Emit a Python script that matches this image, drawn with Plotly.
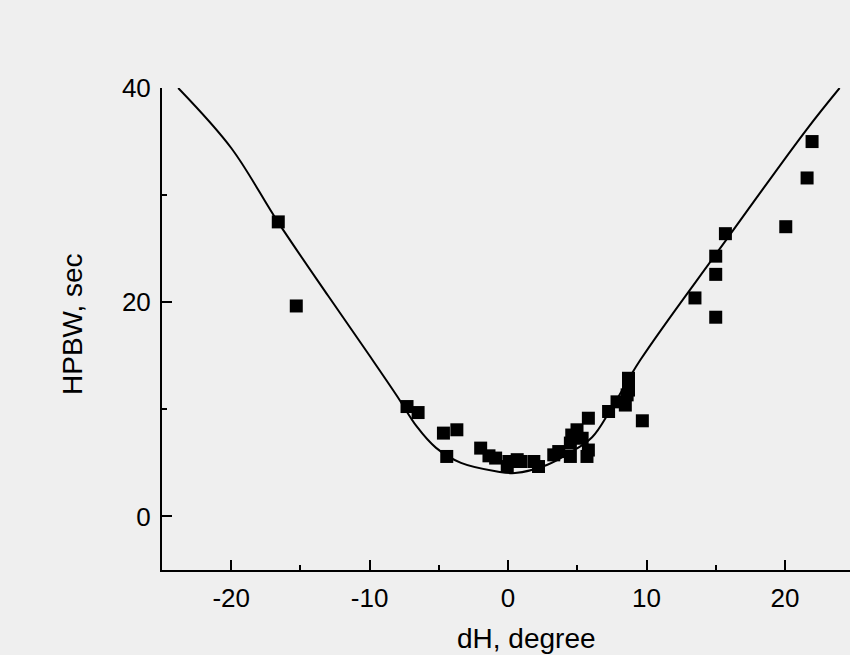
import plotly.graph_objects as go

# Measured data points (dH in degrees, HPBW in seconds)
dh_points = [-16.6, -15.3, -7.3, -6.5, -4.67, -4.43, -3.7, -1.98, -1.38, -0.9, 0.06, -0.06,
             0.66, 0.9, 1.86, 2.2, 3.3, 3.66, 4.5, 4.5, 4.6, 4.98, 5.35, 5.8, 5.7, 5.8,
             7.26, 7.87, 8.47, 8.6, 8.7, 8.7, 9.7, 13.5, 15.0, 15.0, 15.0, 15.7, 20.06, 21.6, 21.96]
hpbw_points = [27.5, 19.65, 10.26, 9.7, 7.78, 5.6, 8.09, 6.38, 5.66, 5.45, 5.13, 4.66,
               5.3, 5.13, 5.13, 4.66, 5.75, 6.06, 5.6, 6.85, 7.6, 8.09, 7.3, 6.2, 5.6, 9.17,
               9.8, 10.7, 10.4, 11.35, 11.8, 12.9, 8.93, 20.4, 24.3, 22.6, 18.6, 26.4, 27.05, 31.6, 35.0]

# Model curve
dh_curve = [-23.83, -20.0, -16.63, -13.0, -10.0, -8.0, -6.6, -5.2, -3.4, -0.8, 0.5,
            2.8, 4.4, 6.07, 7.4, 9.55, 15.3, 21.55, 23.95]
hpbw_curve = [40.0, 34.4, 27.5, 20.6, 15.0, 11.2, 8.4, 6.4, 5.0, 4.2, 4.05,
              4.8, 5.9, 7.4, 9.95, 14.6, 25.0, 36.1, 40.0]

x_ticks = [-20, -10, 0, 10, 20]
x_labels = ["-20", "-10", "0", "10", "20"]
y_ticks = [0, 20, 40]
y_labels = ["0", "20", "40"]

bg = "#efefef"
fnt = "Liberation Sans, Arial, sans-serif"

fig = go.Figure()
fig.add_trace(go.Scatter(x=dh_curve, y=hpbw_curve, mode="lines",
                         line=dict(color="black", width=2, shape="spline", smoothing=1.0),
                         showlegend=False, hoverinfo="skip"))
fig.add_trace(go.Scatter(x=dh_points, y=hpbw_points, mode="markers",
                         marker=dict(symbol="square", size=13, color="black"),
                         showlegend=False))

fig.update_layout(
    width=850, height=655,
    margin=dict(l=162, r=0, t=88, b=85),
    paper_bgcolor=bg, plot_bgcolor=bg,
    font=dict(family=fnt, color="black", size=26),
    xaxis=dict(range=[-25, 24.7], tickvals=x_ticks, ticktext=x_labels, ticks="inside", ticklen=10, tickwidth=2,
               tickcolor="black", showline=True, linecolor="black", linewidth=2,
               showgrid=False, zeroline=False, tickfont=dict(size=26, family=fnt),
               ticklabelstandoff=4,
               minor=dict(ticks="inside", ticklen=5, tickwidth=2, tickcolor="black", dtick=5, showgrid=False)),
    yaxis=dict(range=[-5, 40], tickvals=y_ticks, ticktext=y_labels, ticks="inside", ticklen=10, tickwidth=2,
               tickcolor="black", showline=True, linecolor="black", linewidth=2,
               showgrid=False, zeroline=False, tickfont=dict(size=26, family=fnt),
               ticklabelstandoff=4,
               minor=dict(ticks="inside", ticklen=5, tickwidth=2, tickcolor="black", tick0=0, dtick=10, showgrid=False)),
    annotations=[
        dict(text="dH, degree", xref="paper", yref="paper", x=(526 - 162) / 688, y=-(638 - 570) / 482,
             showarrow=False, xanchor="center", yanchor="middle", font=dict(size=28, family=fnt)),
        dict(text="HPBW, sec", xref="paper", yref="paper", x=-(162 - 72) / 688, y=(570 - 324) / 482,
             showarrow=False, xanchor="center", yanchor="middle", textangle=-90, font=dict(size=28, family=fnt)),
    ],
)

fig.write_html("out.html")
